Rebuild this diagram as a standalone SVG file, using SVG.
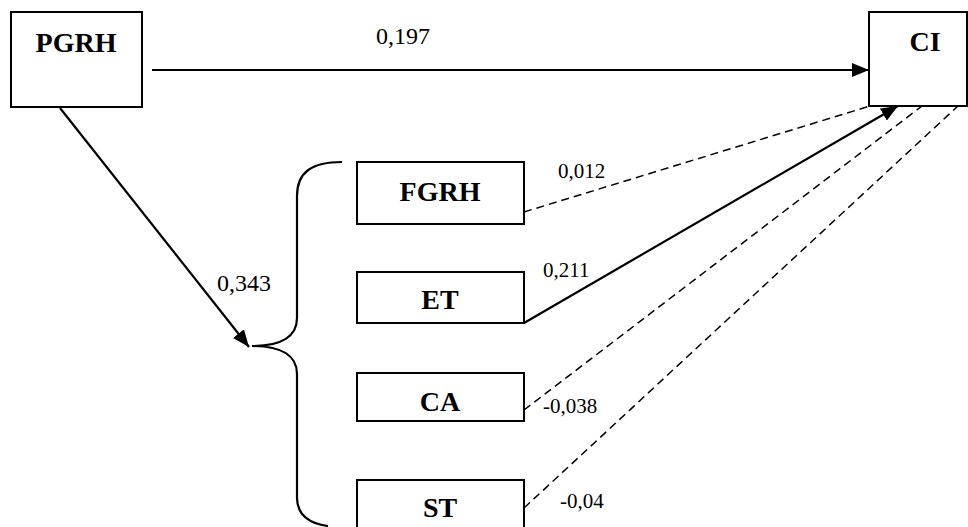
<svg xmlns="http://www.w3.org/2000/svg" width="968" height="527" viewBox="0 0 968 527">
<style>
.box{fill:#fff;stroke:#000;stroke-width:2}
.nt{font-family:'Liberation Serif','Tinos','Times New Roman','DejaVu Serif',serif;font-weight:bold;font-size:28px;text-anchor:middle;fill:#000}
.lb{font-family:'Liberation Serif','Tinos','Times New Roman','DejaVu Serif',serif;font-size:21px;fill:#000}
.lb2{font-family:'Liberation Serif','Tinos','Times New Roman','DejaVu Serif',serif;font-size:24px;fill:#000}
.solid{fill:none;stroke:#000;stroke-width:2.2}
.dash{fill:none;stroke:#000;stroke-width:1.5;stroke-dasharray:8,5}
</style>
<defs>
<marker id="arr" markerUnits="userSpaceOnUse" markerWidth="18" markerHeight="14" refX="17" refY="7" orient="auto">
<path d="M0,0 L17,7 L0,14 Z" fill="#000"/>
</marker>
</defs>
<rect width="968" height="527" fill="#fff"/>
<g id="connectors">
<line class="solid" x1="152" y1="70" x2="869" y2="70" marker-end="url(#arr)"/>
<line class="solid" x1="60" y1="108" x2="249" y2="347" marker-end="url(#arr)"/>
<path class="solid" d="M342,162 C312,162 297,172 297,196 L297,318 C297,336 282,346 252,346 C282,346 297,356 297,374 L297,498 C297,515 310,524 328,526"/>
<line class="dash" x1="524" y1="212" x2="870" y2="106"/>
<line class="solid" x1="524" y1="323" x2="898" y2="106" marker-end="url(#arr)"/>
<line class="dash" x1="524" y1="410" x2="922" y2="106"/>
<line class="dash" x1="524" y1="508" x2="958" y2="106"/>
</g>
<g id="PGRH"><rect class="box" x="11" y="12" width="131" height="95"/><text class="nt" x="76" y="52">PGRH</text></g>
<g id="CI"><rect class="box" x="869" y="12" width="98" height="94"/><text class="nt" x="925" y="51">CI</text></g>
<g id="FGRH"><rect class="box" x="357" y="162" width="167" height="62"/><text class="nt" x="440" y="201">FGRH</text></g>
<g id="ET"><rect class="box" x="357" y="272" width="167" height="51"/><text class="nt" x="440" y="309">ET</text></g>
<g id="CA"><rect class="box" x="357" y="373" width="167" height="48"/><text class="nt" x="440" y="411">CA</text></g>
<g id="ST"><rect class="box" x="357" y="480" width="167" height="60"/><text class="nt" x="440" y="517">ST</text></g>
<g id="labels">
<text class="lb2" x="376" y="44">0,197</text>
<text class="lb2" x="217" y="291">0,343</text>
<text class="lb" x="558" y="178">0,012</text>
<text class="lb" x="543" y="277">0,211</text>
<text class="lb" x="543" y="413">-0,038</text>
<text class="lb" x="560" y="508">-0,04</text>
</g>
</svg>
